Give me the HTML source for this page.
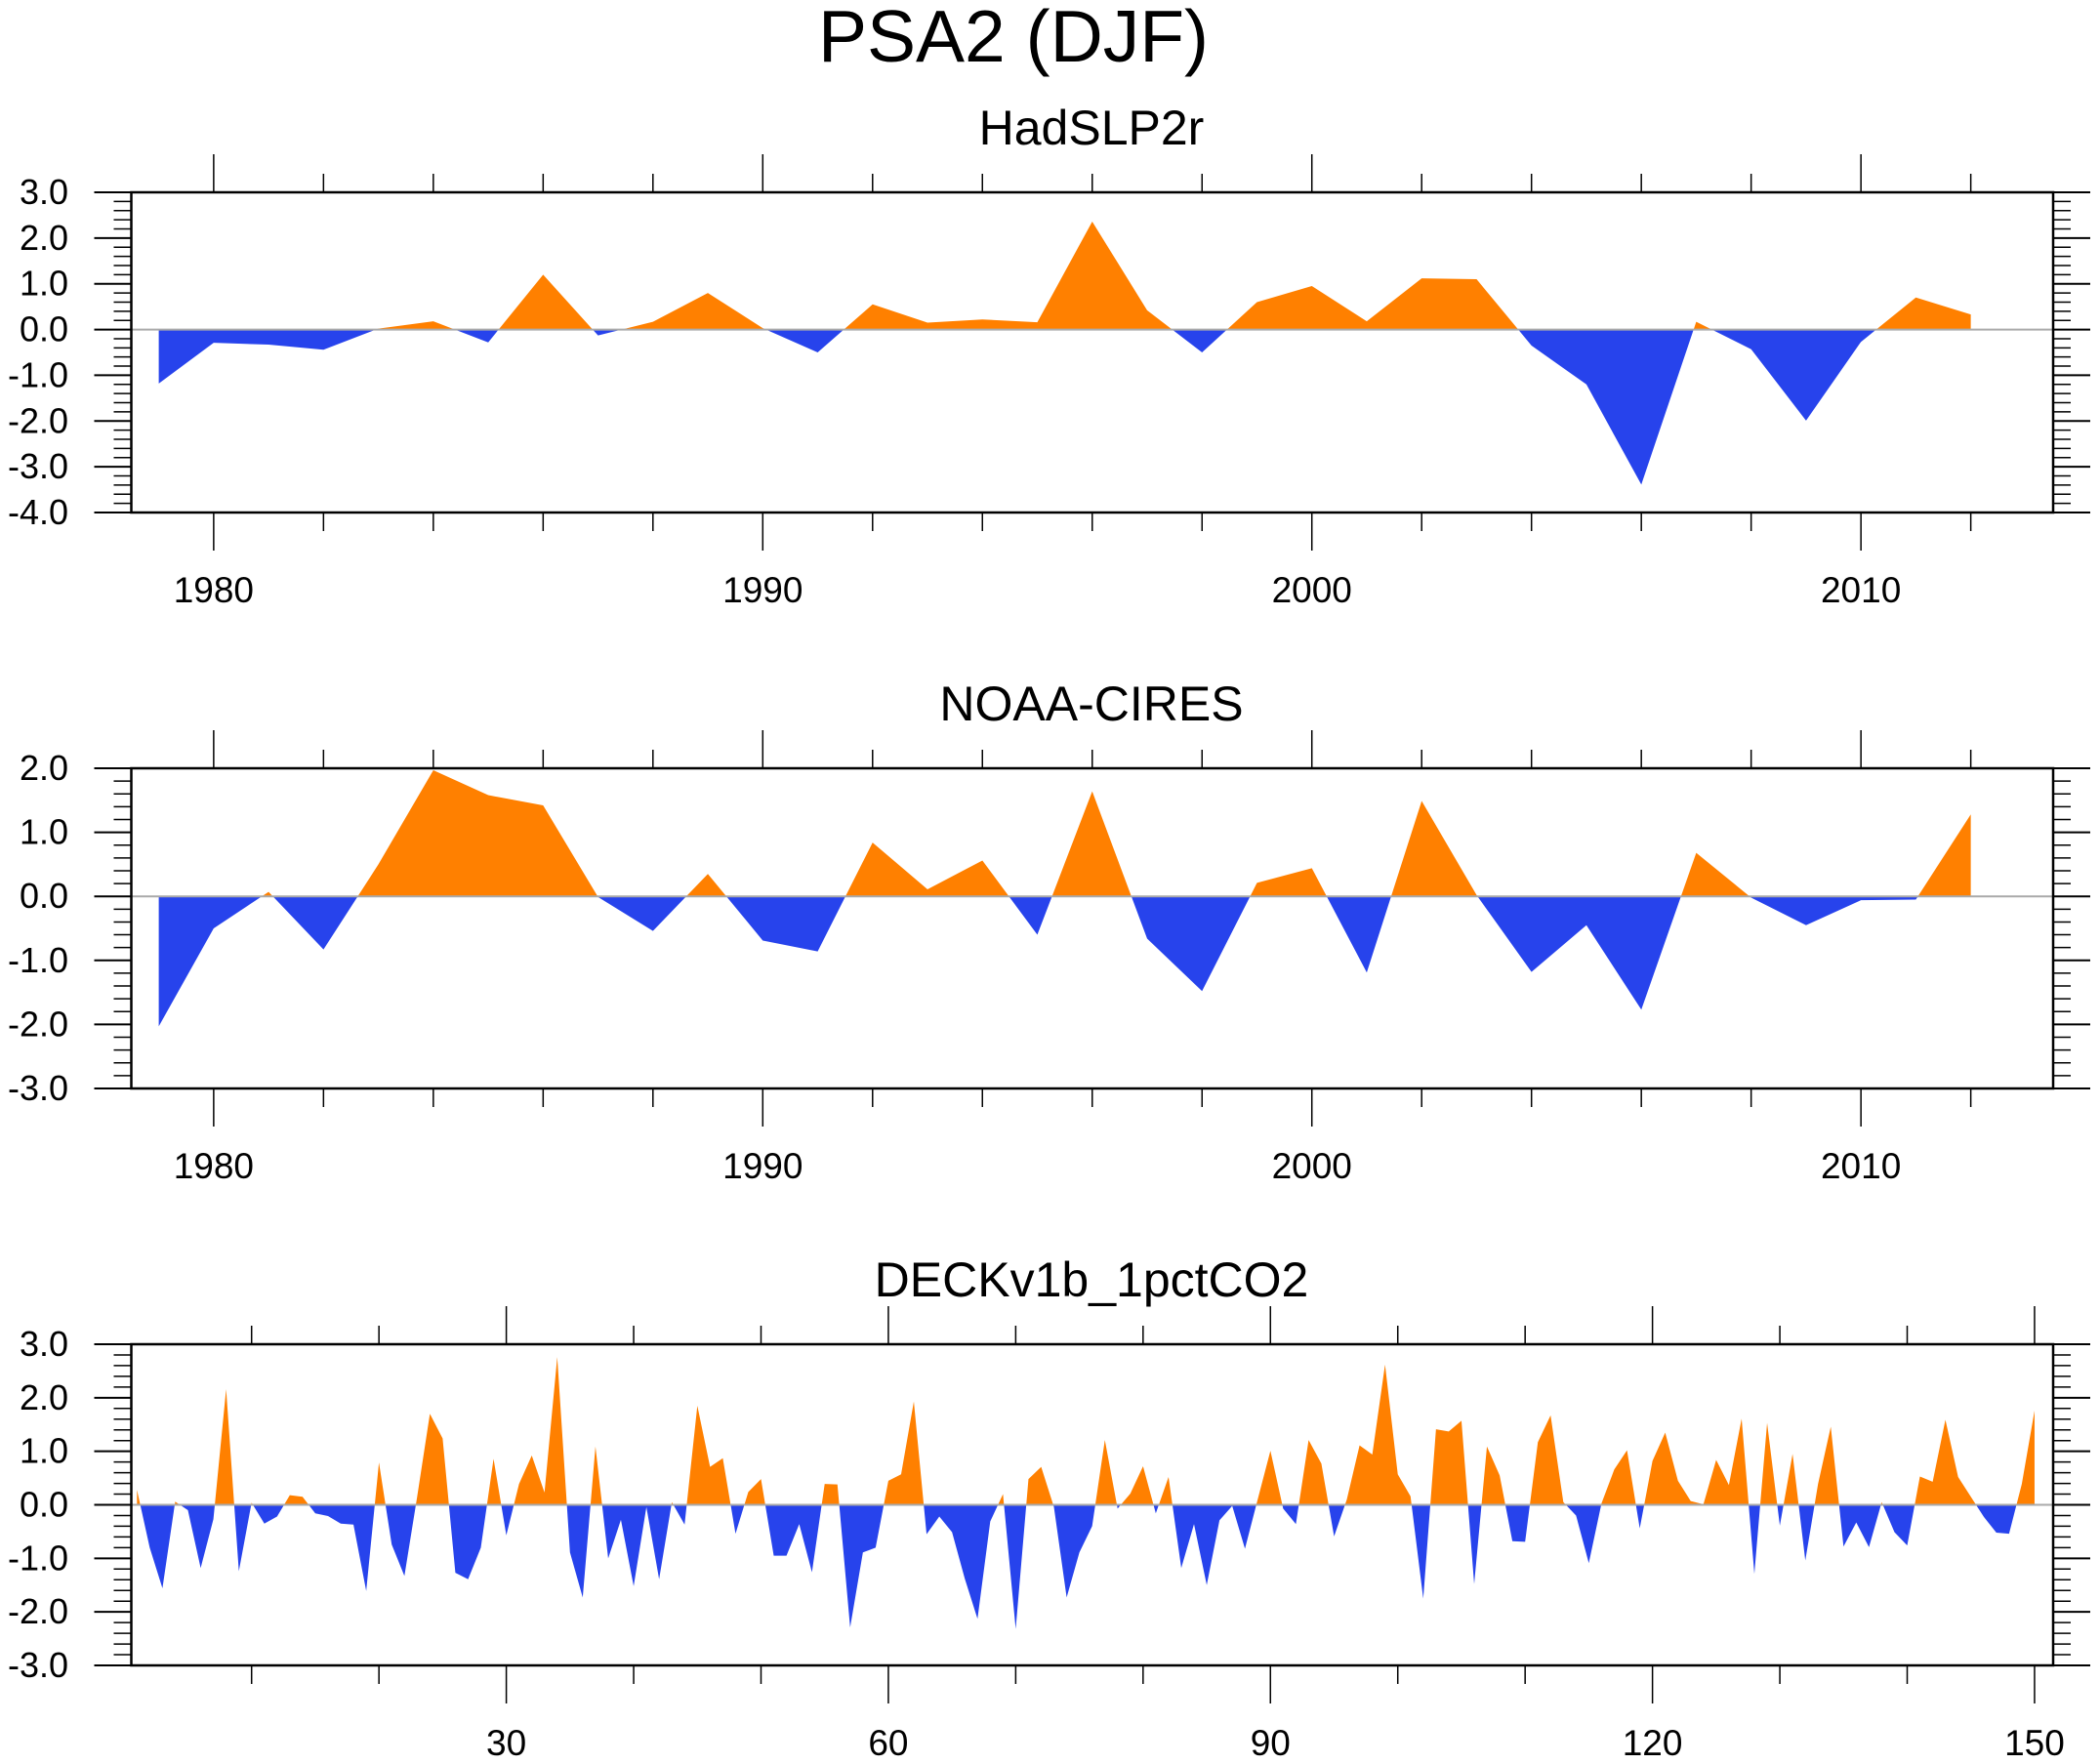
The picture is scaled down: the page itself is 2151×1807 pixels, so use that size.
<!DOCTYPE html>
<html><head><meta charset="utf-8"><style>
html,body{margin:0;padding:0;background:#fff;}
svg{display:block;font-family:"Liberation Sans",Arial,sans-serif;}
</style></head><body>
<svg id="chart" width="2151" height="1807" viewBox="0 0 2151 1807" xmlns="http://www.w3.org/2000/svg">
<text x="1038" y="63" font-size="75" text-anchor="middle">PSA2 (DJF)</text>
</svg>
<script>
const hadYears = [1979,1980,1981,1982,1983,1984,1985,1986,1987,1988,1989,1990,1991,1992,1993,1994,1995,1996,1997,1998,1999,2000,2001,2002,2003,2004,2005,2006,2007,2008,2009,2010,2011,2012];
const hadValues = [-1.18,-0.29,-0.33,-0.44,0.02,0.18,-0.28,1.2,-0.13,0.17,0.8,0.03,-0.5,0.55,0.15,0.22,0.16,2.36,0.42,-0.5,0.6,0.95,0.18,1.12,1.1,-0.35,-1.2,-3.39,0.17,-0.43,-1.99,-0.27,0.7,0.33];
const noaaValues = [-2.03,-0.5,0.07,-0.83,0.5,1.97,1.58,1.42,-0.01,-0.54,0.35,-0.69,-0.86,0.84,0.11,0.56,-0.6,1.64,-0.66,-1.48,0.21,0.44,-1.19,1.49,0.02,-1.18,-0.45,-1.77,0.68,-0.02,-0.45,-0.06,-0.05,1.28];
const deckValues = [0.28,-0.8,-1.56,0.06,-0.1,-1.18,-0.27,2.16,-1.24,0.04,-0.35,-0.22,0.18,0.15,-0.16,-0.21,-0.35,-0.37,-1.61,0.79,
-0.74,-1.33,0.15,1.7,1.24,-1.27,-1.39,-0.8,0.86,-0.57,0.39,0.92,0.23,2.76,-0.89,-1.73,1.09,-1.0,-0.28,-1.52,
-0.04,-1.39,0.05,-0.37,1.85,0.71,0.87,-0.54,0.24,0.48,-0.95,-0.95,-0.36,-1.26,0.39,0.38,-2.29,-0.89,-0.8,0.45,
0.57,1.93,-0.55,-0.22,-0.51,-1.38,-2.13,-0.31,0.2,-2.32,0.48,0.71,-0.04,-1.73,-0.89,-0.4,1.21,-0.07,0.21,0.72,
-0.16,0.52,-1.18,-0.36,-1.5,-0.29,-0.02,-0.82,0.1,1.01,-0.07,-0.36,1.21,0.77,-0.59,0.1,1.11,0.94,2.62,0.57,
0.16,-1.75,1.41,1.37,1.57,-1.48,1.09,0.55,-0.68,-0.69,1.17,1.67,0.05,-0.2,-1.09,0.03,0.66,1.02,-0.44,0.82,
1.35,0.45,0.07,0.01,0.84,0.37,1.61,-1.29,1.53,-0.39,0.95,-1.04,0.39,1.46,-0.78,-0.33,-0.79,0.05,-0.51,-0.76,
0.53,0.43,1.59,0.52,0.15,-0.22,-0.52,-0.54,0.39,1.76];
const deckIndex = deckValues.map((v,i)=>i+1);
const yTicks1 = ["3.0","2.0","1.0","0.0","-1.0","-2.0","-3.0","-4.0"];
const yTicks2 = ["2.0","1.0","0.0","-1.0","-2.0","-3.0"];
const yTicks3 = ["3.0","2.0","1.0","0.0","-1.0","-2.0","-3.0"];
const xTicksYears = [1980,1990,2000,2010];
const xTicksDeck = [30,60,90,120,150];

const NS="http://www.w3.org/2000/svg";
const svg=document.getElementById('chart');
function mk(tag,attrs,parent){const e=document.createElementNS(NS,tag);for(const k in attrs)e.setAttribute(k,attrs[k]);(parent||svg).appendChild(e);return e;}

function panel(cfg){
  const g=mk('g',{});
  
  
  const L=134.5,R=2103,T=cfg.top,B=cfg.bottom;
  const sx=v=>L+(v-cfg.xmin)/(cfg.xmax-cfg.xmin)*(R-L);
  const sy=v=>B-(v-cfg.ymin)/(cfg.ymax-cfg.ymin)*(B-T);
  const t=mk('text',{x:1118,y:T-49,'font-size':50,'text-anchor':'middle'},g);
  t.textContent=cfg.title;
  
  
  const id=cfg.name;
  const defs=mk('defs',{},g);
  const c1=mk('clipPath',{id:id+'-up'},defs);mk('rect',{x:L,y:T,width:R-L,height:sy(0)-T},c1);
  const c2=mk('clipPath',{id:id+'-dn'},defs);mk('rect',{x:L,y:sy(0),width:R-L,height:B-sy(0)},c2);
  let d='M'+sx(cfg.xs[0])+','+sy(0);
  cfg.ys.forEach((v,i)=>{d+=' L'+sx(cfg.xs[i]).toFixed(2)+','+sy(v).toFixed(2);});
  d+=' L'+sx(cfg.xs[cfg.xs.length-1])+','+sy(0)+' Z';
  const pu=mk('path',{d:d,fill:'#FF8000','clip-path':'url(#'+id+'-up)'},g);
  
  
  const pd=mk('path',{d:d,fill:'#2743EC','clip-path':'url(#'+id+'-dn)'},g);
  
  
  const zl=mk('line',{x1:L,x2:R,y1:sy(0),y2:sy(0),stroke:'#aaa','stroke-width':2},g);
  
  
  for(let k=0;k<=Math.round((cfg.ymax-cfg.ymin)*5);k++){
    const v=cfg.ymin+k*0.2, y=sy(v), major=(k%5===0);
    const len=major?38:18;
    mk('line',{x1:L-len,x2:L,y1:y,y2:y,stroke:'#000','stroke-width':major?2:1.5},g);
    mk('line',{x1:R,x2:R+len,y1:y,y2:y,stroke:'#000','stroke-width':major?2:1.5},g);
  }
  cfg.yLabels.forEach(s=>{
    const v=parseFloat(s);
    const tx=mk('text',{x:70,y:sy(v)+12,'font-size':36,'text-anchor':'end'},g);
    tx.textContent=s;
    
    
  });
  for(let v=cfg.minorStart;v<=cfg.xmax;v+=cfg.minorStep){
    const x=sx(v), major=cfg.majors.includes(v);
    const len=major?39:19;
    mk('line',{x1:x,x2:x,y1:T-len,y2:T,stroke:'#000','stroke-width':1.5},g);
    mk('line',{x1:x,x2:x,y1:B,y2:B+len,stroke:'#000','stroke-width':1.5},g);
  }
  cfg.majors.forEach(v=>{
    const tx=mk('text',{x:sx(v),y:B+92,'font-size':37,'text-anchor':'middle'},g);
    tx.textContent=String(v);
    
    
  });
  const fr=mk('rect',{x:L,y:T,width:R-L,height:B-T,fill:'none',stroke:'#000','stroke-width':2.5},g);
  
  
}
panel({name:'hadslp2r-panel',title:'HadSLP2r',top:197,bottom:525,ymin:-4,ymax:3,xmin:1978.5,xmax:2013.5,xs:hadYears,ys:hadValues,yLabels:yTicks1,majors:xTicksYears,minorStart:1980,minorStep:2});
panel({name:'noaa-cires-panel',title:'NOAA-CIRES',top:787,bottom:1115,ymin:-3,ymax:2,xmin:1978.5,xmax:2013.5,xs:hadYears,ys:noaaValues,yLabels:yTicks2,majors:xTicksYears,minorStart:1980,minorStep:2});
panel({name:'deck-1pctco2-panel',title:'DECKv1b_1pctCO2',top:1377,bottom:1706,ymin:-3,ymax:3,xmin:0.555,xmax:151.46,xs:deckIndex,ys:deckValues,yLabels:yTicks3,majors:xTicksDeck,minorStart:10,minorStep:10});
</script>
</body></html>
